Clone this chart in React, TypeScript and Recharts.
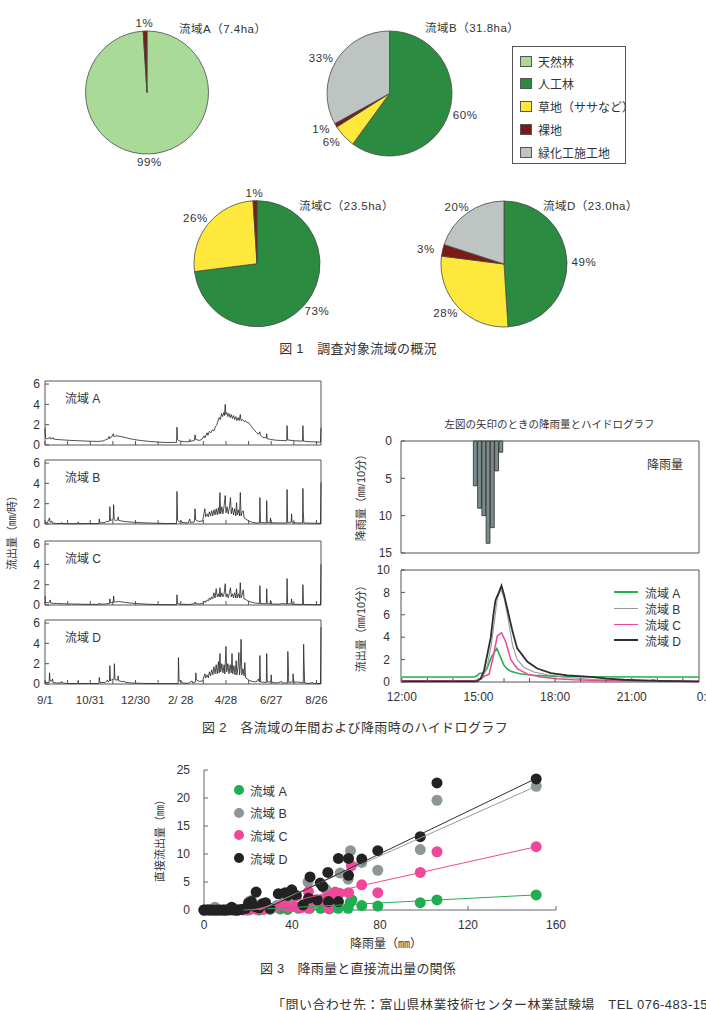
import React from "react";
import {
  PieChart, Pie, Cell, LineChart, Line, BarChart, Bar, ScatterChart, Scatter,
  XAxis, YAxis, ReferenceArea,
} from "recharts";

type Pt = [number, number];

const FONT = "'Liberation Sans', 'Noto Sans CJK JP', sans-serif";
const INK = "#333";
const FRAME = "#555";

// ---------- Fig.1 : land use of each catchment ----------
const landUse = ["天然林", "人工林", "草地（ササなど）", "裸地", "緑化工施工地"];
const landColors = ["#a9da98", "#2b8c41", "#ffe83c", "#7b1b16", "#bec4c1"];

// share (%) per category, same order as landUse
const shareA = [99, 0, 0, 1, 0];
const shareB = [0, 60, 6, 1, 33];
const shareC = [0, 73, 26, 1, 0];
const shareD = [0, 49, 28, 3, 20];

const basinTitles = ["流域A（7.4ha）", "流域B（31.8ha）", "流域C（23.5ha）", "流域D（23.0ha）"];

// ---------- Fig.2 left : runoff through the year (days since 9/1) ----------
const dayTicks = [0, 30, 60, 90, 120, 150, 180, 210, 240, 270, 300, 330, 360];
const dateTicks = [0, 60, 120, 180, 240, 300, 360];
const dateLabels = ["9/1", "10/31", "12/30", "2/ 28", "4/28", "6/27", "8/26"];

const flowA: Pt[] = [
  [0, 1.7], [0.6, 0.7], [3, 0.6], [7, 0.75], [7.6, 0.6], [11, 0.7], [11.6, 0.58], [20, 0.52], [30, 0.47],
  [40, 0.43], [50, 0.4], [60, 0.37], [70, 0.35], [77, 0.4], [80, 0.5], [84, 0.62], [85, 0.85], [85.6, 0.65],
  [88, 0.75], [90.5, 1.1], [91.2, 0.85], [95, 0.9], [100, 0.85], [108, 0.7], [117, 0.55], [128, 0.43],
  [139, 0.35], [150, 0.28], [160, 0.25], [170, 0.25], [174.5, 0.27], [175, 1.75], [175.7, 0.55], [178, 0.4],
  [185, 0.32], [191.5, 0.33], [192, 0.55], [192.6, 0.35], [198, 0.45], [199, 1.0], [199.8, 0.55], [205, 0.45],
  [208, 0.55], [211, 0.9], [212, 0.7], [215, 1.2], [216, 0.95], [218, 1.35], [220, 1.2], [222, 1.5], [224, 1.4],
  [226, 1.8], [228, 2.0], [229.5, 2.4], [231, 2.7], [232.5, 2.5], [234, 3.1], [235.5, 2.8], [237, 3.2],
  [238, 2.9], [239, 4.0], [239.8, 3.0], [241, 3.2], [242.5, 2.8], [244, 3.1], [245.5, 2.7], [247, 3.0],
  [248.5, 2.6], [250, 2.9], [251.5, 2.5], [253, 2.8], [254.5, 2.4], [256, 2.7], [257.5, 2.4], [259, 3.0],
  [260, 2.4], [262, 2.5], [264, 2.3], [266, 2.4], [268, 2.2], [270, 2.2], [273, 1.9], [276, 1.6], [280, 1.25],
  [283, 1.05], [285, 1.3], [285.7, 0.95], [289, 0.75], [293.5, 0.7], [294, 1.1], [294.7, 0.62], [299, 0.55],
  [305, 0.48], [312, 0.45], [320.5, 0.42], [321, 1.9], [321.8, 0.5], [330, 0.42], [341.5, 0.38], [342, 1.9],
  [342.7, 0.38], [350, 0.33], [358, 0.3], [365.3, 0.28], [366, 1.7],
];

const flowB: Pt[] = [
  [0, 0.15], [3, 0.1], [6, 0.6], [6.8, 0.15], [9, 0.3], [9.7, 0.1], [15, 0.05], [21.5, 0.05], [22, 0.15],
  [22.7, 0.05], [30, 0.03], [43.5, 0.03], [44, 0.2], [44.7, 0.03], [58, 0.05], [58.5, 0.1], [59, 0.03],
  [71.5, 0.05], [72, 0.5], [72.8, 0.1], [80, 0.15], [82, 0.3], [83, 0.2], [85.5, 0.3], [86, 1.7], [86.8, 0.3],
  [88, 0.4], [90.5, 0.5], [91, 1.9], [91.8, 0.4], [94, 0.35], [96.5, 0.4], [97, 0.7], [97.7, 0.35], [105, 0.25],
  [117, 0.17], [130, 0.12], [145, 0.08], [160, 0.05], [174.5, 0.05], [175, 3.2], [175.8, 0.35], [178, 0.2],
  [181, 0.3], [181.6, 0.15], [190, 0.1], [192, 0.5], [192.7, 0.15], [198, 0.2], [199, 1.5], [199.8, 0.4],
  [204, 0.25], [209, 0.3], [212, 1.5], [213, 0.7], [215, 1.0], [216.5, 0.7], [218, 1.2], [219.5, 0.8],
  [221, 1.3], [222.5, 0.8], [224, 1.4], [225.5, 0.9], [227, 1.5], [228.5, 0.9], [230, 1.6], [231, 1.0],
  [232, 3.1], [233, 1.0], [234.5, 1.7], [236, 1.0], [237.5, 1.8], [239, 2.8], [240, 1.1], [241.5, 1.7],
  [243, 1.0], [244.5, 1.6], [246, 2.6], [247, 1.0], [248.5, 1.6], [250, 0.9], [251.5, 1.5], [253, 0.8],
  [254, 2.1], [255, 0.9], [256.5, 1.4], [258, 0.8], [259, 3.1], [260, 0.8], [261.5, 1.2], [263, 1.3],
  [264, 0.6], [266, 0.5], [270, 0.3], [275, 0.15], [280, 0.1], [284.5, 0.1], [285, 2.6], [285.7, 0.15],
  [293.5, 0.1], [294, 2.3], [294.7, 0.15], [298.5, 0.15], [299, 0.6], [299.7, 0.12], [310, 0.1], [320.5, 0.1],
  [321, 3.4], [321.7, 0.15], [326.5, 0.2], [327, 1.0], [327.7, 0.15], [335, 0.1], [341.5, 0.1], [342, 3.5],
  [342.5, 1.3], [343.2, 0.1], [355, 0.08], [365.3, 0.06], [366, 4.1],
];

const flowC: Pt[] = [
  [0, 0.9], [0.7, 0.25], [5, 0.2], [7, 0.5], [7.7, 0.18], [15, 0.15], [25, 0.12], [35, 0.1], [43.5, 0.08],
  [44, 0.15], [44.7, 0.08], [60, 0.06], [71.5, 0.06], [72, 0.2], [72.8, 0.08], [80, 0.1], [85.5, 0.15],
  [86, 0.6], [86.8, 0.2], [90.5, 0.25], [91, 0.9], [91.8, 0.3], [95, 0.3], [98, 0.35], [102, 0.3], [110, 0.22],
  [120, 0.15], [135, 0.08], [150, 0.04], [165, 0.03], [174.5, 0.03], [175, 1.0], [175.7, 0.15], [180, 0.08],
  [190, 0.05], [198, 0.1], [199, 0.3], [199.8, 0.15], [205, 0.1], [210, 0.2], [212, 0.4], [213, 0.25],
  [215, 0.5], [216.5, 0.4], [218, 0.7], [219.5, 0.5], [221, 0.8], [222.5, 0.6], [224, 1.2], [225.5, 0.7],
  [227, 1.6], [228.5, 0.8], [230, 1.1], [231, 0.8], [232, 1.7], [233, 0.8], [234.5, 1.2], [236, 0.8],
  [237.5, 1.1], [239, 2.1], [240, 0.8], [241.5, 1.1], [243, 0.7], [244.5, 1.2], [246, 1.7], [247, 0.8],
  [248.5, 1.1], [250, 0.7], [251.5, 1.2], [253, 0.7], [254, 1.6], [255, 0.7], [256.5, 1.1], [258, 0.7],
  [259, 2.2], [260, 0.7], [261.5, 1.0], [263, 1.5], [264, 0.6], [266, 0.55], [269, 0.4], [273, 0.3], [278, 0.2],
  [284.5, 0.15], [285, 1.9], [285.7, 0.15], [293.5, 0.12], [294, 1.6], [294.7, 0.12], [298.5, 0.12],
  [299, 0.45], [299.7, 0.1], [310, 0.08], [316, 0.15], [320.5, 0.08], [321, 2.6], [321.7, 0.1], [326.5, 0.12],
  [327, 0.6], [327.7, 0.08], [335, 0.06], [341.5, 0.05], [342, 2.0], [342.8, 0.05], [355, 0.04], [365.3, 0.03],
  [366, 4.0],
];

const flowD: Pt[] = [
  [0, 0.3], [1, 0.15], [5.5, 0.15], [6, 1.1], [6.8, 0.3], [9.5, 0.3], [10, 0.5], [10.7, 0.15], [15, 0.1],
  [21.5, 0.1], [22, 0.25], [23, 0.1], [30, 0.05], [43.5, 0.05], [44, 0.35], [44.7, 0.05], [58, 0.05],
  [71.5, 0.05], [72, 0.65], [72.8, 0.15], [80, 0.15], [83, 0.4], [83.7, 0.2], [85.5, 0.3], [86, 1.8],
  [86.8, 0.3], [88, 0.4], [91.5, 0.5], [92, 2.0], [92.8, 0.4], [96.5, 0.4], [97, 0.8], [97.7, 0.3], [102, 0.25],
  [106, 0.25], [106.5, 0.15], [115, 0.1], [130, 0.06], [150, 0.04], [176.5, 0.04], [177, 2.6], [177.8, 0.3],
  [181, 0.3], [181.6, 0.1], [190, 0.06], [195, 0.3], [195.7, 0.1], [199.5, 0.2], [200, 1.1], [200.8, 0.4],
  [205, 0.25], [209, 0.3], [212, 1.0], [213, 0.6], [215, 0.9], [216.5, 0.6], [218, 1.2], [219.5, 0.8],
  [221, 1.4], [222.5, 0.9], [224, 1.7], [225.5, 1.0], [227, 1.9], [228.5, 1.0], [230, 2.2], [231, 1.1],
  [232, 3.0], [233, 1.2], [234.5, 2.0], [236, 1.1], [237.5, 1.9], [238.5, 1.0], [240, 3.7], [241, 1.2],
  [242.5, 2.0], [244, 1.0], [245.5, 1.9], [247, 1.1], [248, 3.0], [249, 1.0], [250.5, 1.8], [252, 0.9],
  [253.5, 2.3], [254.5, 0.9], [256, 1.7], [257, 3.1], [258, 0.9], [259, 1.7], [260, 4.4], [261, 0.9],
  [262.5, 1.5], [264, 0.8], [265, 2.1], [266, 0.6], [268, 0.5], [271, 0.35], [275, 0.25], [280, 0.2],
  [283, 0.5], [284, 0.2], [284.5, 0.2], [285, 2.8], [285.7, 0.2], [293.5, 0.15], [294, 3.0], [294.7, 0.2],
  [299.5, 0.2], [300, 0.9], [300.7, 0.15], [308, 0.1], [314, 0.25], [314.6, 0.1], [321.5, 0.1], [322, 3.2],
  [322.5, 2.3], [323.2, 0.15], [328.5, 0.2], [329, 1.0], [329.7, 0.15], [335, 0.2], [342.5, 0.1], [343, 3.9],
  [343.5, 2.2], [344.3, 0.1], [350, 0.05], [355, 0.15], [355.7, 0.05], [365.3, 0.05], [366, 5.6],
];

// ---------- Fig.2 right : one storm (minutes since 0:00) ----------
const hourTicks = [720, 780, 840, 900, 960, 1020, 1080, 1140, 1200, 1260, 1320, 1380, 1440];
const clockTicks = [720, 900, 1080, 1260, 1440];
const clockLabels = ["12:00", "15:00", "18:00", "21:00", "0:00"];

const rainTimes = [895, 905, 915, 925, 935, 945, 955];
const rainMm = [6.0, 9.0, 10.0, 13.7, 11.6, 4.0, 1.5];

const stormA: Pt[] = [
  [720, 0.45], [890, 0.45], [898, 0.6], [903, 0.78], [913, 0.8], [920, 1.2], [930, 2.2], [943, 3.0],
  [952, 2.2], [960, 1.5], [968, 1.15], [976, 0.95], [990, 0.8], [1000, 0.72], [1030, 0.6], [1085, 0.5],
  [1150, 0.47], [1300, 0.45], [1420, 0.45],
];
const stormB: Pt[] = [
  [720, 0.12], [880, 0.12], [900, 0.15], [910, 0.4], [921, 1.5], [930, 3.3], [936, 5.0], [944, 7.4],
  [952, 8.3], [960, 7.5], [968, 6.0], [980, 3.3], [991, 2.0], [1007, 1.3], [1030, 0.9], [1062, 0.65],
  [1109, 0.4], [1171, 0.22], [1280, 0.1], [1420, 0.05],
];
const stormC: Pt[] = [
  [720, 0.12], [890, 0.12], [905, 0.25], [913, 0.5], [925, 0.7], [936, 2.5], [944, 4.1], [954, 4.4],
  [964, 3.6], [976, 2.0], [991, 1.2], [1015, 0.7], [1046, 0.45], [1085, 0.3], [1124, 0.2], [1202, 0.12],
  [1300, 0.1], [1311, 0.2], [1320, 0.1], [1420, 0.05],
];
const stormD: Pt[] = [
  [720, 0.05], [895, 0.05], [905, 0.3], [913, 1.0], [921, 2.5], [929, 4.0], [935, 6.0], [940, 7.3],
  [948, 8.0], [954, 8.6], [960, 7.8], [968, 6.5], [980, 4.5], [991, 3.0], [1015, 1.8], [1038, 1.2],
  [1070, 0.8], [1109, 0.6], [1163, 0.45], [1202, 0.3], [1241, 0.2], [1319, 0.1], [1420, 0.05],
];

// ---------- Fig.3 : event rainfall (mm) vs direct runoff (mm) ----------
const eventsA: Pt[] = [
  [0, 0], [5, 0], [10, 0], [15, 0], [20, 0], [25, 0], [30, 0.1], [34.6, 0.2], [38, 0.1], [43, 0.3], [48, 0.3],
  [53, 0.3], [57, 0.2], [61, 0.3], [65.5, 0.3], [66.4, 1.3], [67.2, 1.8], [71.7, 0.8], [79, 0.7], [98.3, 1.3],
  [105.9, 1.8], [151, 2.7],
];
const eventsB: Pt[] = [
  [0, 0], [2, 0.1], [4, 0], [5, 0.5], [7, 0], [9, 0], [11, 0.1], [13, 0], [15, 0], [17, 0.1], [19, 0.2],
  [20.5, 1.5], [21.5, 1.7], [23, 0.9], [25, 0.5], [28, 0.6], [33, 0.8], [36, 1.2], [38, 0.7], [40, 1.0],
  [44, 0.6], [47.3, 5.0], [50, 1.2], [55.4, 3.7], [57, 1.8], [61.9, 6.6], [65.5, 5.5], [66.6, 10.6],
  [71.7, 8.5], [79, 7.1], [98.3, 10.8], [105.9, 19.6], [151, 22.1],
];
const eventsC: Pt[] = [
  [0, 0], [3, 0], [6, 0], [9, 0], [12, 0], [15, 0], [18, 0], [21, 0.1], [24, 0.1], [27, 0.1], [30, 0.2],
  [33, 0.5], [35.7, 1.0], [38, 0.5], [41.4, 0.6], [44, 0.4], [47.5, 3.3], [47.5, 0.3], [50.5, 1.8],
  [53.5, 1.8], [56.6, 2.4], [56.6, 0.3], [59.6, 3.2], [61.6, 3.0], [65.7, 3.1], [67, 7.9], [71.7, 4.5],
  [79, 3.1], [98.3, 6.7], [105.9, 10.4], [151, 11.3],
];
const eventsD: Pt[] = [
  [0, 0], [1.5, 0], [3, 0], [4.5, 0], [6, 0], [7.5, 0], [9, 0], [10.5, 0], [12, 0.1], [12.6, 0.5], [14, 0],
  [15.5, 0], [17, 0.1], [19, 0.3], [20.2, 1.2], [21.5, 1.5], [23.2, 0.6], [23.7, 3.2], [25, 0.4], [26.5, 1.1],
  [28, 1.3], [30, 0.3], [33.8, 2.9], [36.9, 3.1], [38, 2.6], [39.9, 3.6], [42, 2.6], [45, 0.9], [47.5, 2.1],
  [48.2, 5.9], [51.5, 1.8], [52.8, 4.8], [54, 4.2], [56.3, 6.7], [56.6, 1.5], [61.1, 1.5], [61.1, 9.2],
  [65.7, 9.2], [65.7, 6.2], [71.7, 9.1], [79, 10.6], [98.3, 13.1], [105.9, 22.7], [151, 23.4],
];

// fitted lines (two end points each)
const fitA: Pt[] = [[18, 0], [151, 2.7]];
const fitB: Pt[] = [[25, 0], [151, 22.1]];
const fitC: Pt[] = [[22, 0], [151, 11.3]];
const fitD: Pt[] = [[27, 0], [151, 23.5]];

const basinLabels = ["流域 A", "流域 B", "流域 C", "流域 D"];
const lineColors = ["#25b04d", "#9a9a9a", "#ec4897", "#2e2e2e"];
const dotColors = ["#1fae50", "#8d9797", "#f0479b", "#222222"];

// ---------- helpers ----------
const toXY = (pts: Pt[]) => pts.map(([x, y]) => ({ x, y }));

function Txt({ x, y, size = 12, align = "left", rot = false, spacing = 0, children }: any) {
  const tx = align === "center" ? "-50%" : align === "right" ? "-100%" : "0";
  return (
    <div
      style={{
        position: "absolute", left: x, top: y, fontSize: size, lineHeight: 1, whiteSpace: "nowrap",
        color: INK, letterSpacing: spacing,
        transform: `translate(${tx}, -50%)${rot ? " rotate(-90deg)" : ""}`,
      }}
    >
      {children}
    </div>
  );
}

const RAD = Math.PI / 180;
const pctLabel = (p: any) => {
  const a = -p.midAngle * RAD;
  const x = p.cx + (p.outerRadius + 17) * Math.cos(a);
  const y = p.cy + (p.outerRadius + 8) * Math.sin(a);
  return (
    <text x={x} y={y} textAnchor="middle" dominantBaseline="central" fontSize={11.5} fill={INK} letterSpacing={0.6}>
      {`${p.value}%`}
    </text>
  );
};

const pieSlices = (share: number[]) =>
  share
    .map((v, i) => ({ name: landUse[i], value: v, color: landColors[i] }))
    .filter((d) => d.value > 0);

const pieLayout = [
  { share: shareA, cx: 147, cy: 92.5, r: 61.5, tx: 179, ty: 30 },
  { share: shareB, cx: 389.5, cy: 93.5, r: 62.5, tx: 425, ty: 29 },
  { share: shareC, cx: 257, cy: 263.7, r: 63, tx: 299, ty: 207 },
  { share: shareD, cx: 504, cy: 264, r: 63, tx: 543, ty: 207 },
];

const tickStyle = { fontSize: 12, fill: INK };

function YearPanel({ flow, plotTop, name, showDates }: { flow: Pt[]; plotTop: number; name: string; showDates: boolean }) {
  const axisH = showDates ? 28 : 2;
  const padBottom = showDates ? 0 : 7;
  const data = flow.map(([d, q]) => ({ d, q }));
  return (
    <>
      <div style={{ position: "absolute", left: 0, top: plotTop - 4 }}>
        <LineChart
          width={330} height={4 + 64 + axisH + padBottom} data={data}
          margin={{ top: 4, right: 9, left: 20, bottom: padBottom }}
        >
          <XAxis
            dataKey="d" type="number" domain={[0, 366]} ticks={dayTicks} interval={0} height={axisH}
            axisLine={false} tickSize={-4} tickMargin={16} tickLine={{ stroke: FRAME }}
            tick={{ fontSize: 11.5, fill: INK }}
            tickFormatter={(v: number) => {
              const i = dateTicks.indexOf(v);
              return showDates && i >= 0 ? dateLabels[i] : "";
            }}
          />
          <YAxis
            type="number" domain={[0, 6.3]} ticks={[0, 2, 4, 6]} interval={0} width={25}
            axisLine={false} tickSize={-4} tickMargin={9} tickLine={{ stroke: FRAME }} tick={tickStyle}
          />
          <ReferenceArea x1={0} x2={366} y1={0} y2={6.3} fill="none" stroke={FRAME} strokeWidth={1} />
          <Line dataKey="q" type="linear" dot={false} stroke="#222" strokeWidth={0.8} isAnimationActive={false} />
        </LineChart>
      </div>
      <Txt x={65} y={plotTop + 18} size={12}>{name}</Txt>
    </>
  );
}

export default function App() {
  const rainData = rainTimes.map((t, i) => ({ t, r: rainMm[i] }));
  const storms = [stormA, stormB, stormC, stormD];
  const events = [eventsA, eventsB, eventsC, eventsD];
  const fits = [fitA, fitB, fitC, fitD];
  const stormWidths = [1.6, 1.1, 1.5, 1.8];

  return (
    <div
      style={{
        position: "absolute", left: 0, top: 0, width: 706, height: 1010, overflow: "hidden",
        background: "#fff", fontFamily: FONT, color: INK,
      }}
    >
      {/* ---------- Fig.1 ---------- */}
      <div style={{ position: "absolute", left: 0, top: 0 }}>
        <PieChart width={706} height={340} margin={{ top: 0, right: 0, bottom: 0, left: 0 }}>
          {pieLayout.map((p, k) => (
            <Pie
              key={k} data={pieSlices(p.share)} dataKey="value" nameKey="name" cx={p.cx} cy={p.cy}
              outerRadius={p.r} startAngle={90} endAngle={-270} stroke="#4a4a4a" strokeWidth={0.8}
              label={pctLabel} labelLine={false} isAnimationActive={false}
            >
              {pieSlices(p.share).map((s, i) => (
                <Cell key={i} fill={s.color} />
              ))}
            </Pie>
          ))}
        </PieChart>
      </div>
      {pieLayout.map((p, k) => (
        <Txt key={k} x={p.tx} y={p.ty} size={11.5} spacing={0.5}>{basinTitles[k]}</Txt>
      ))}
      <div
        style={{
          position: "absolute", left: 512, top: 46, width: 114, height: 118, border: `1px solid ${FRAME}`,
          boxSizing: "border-box",
        }}
      >
        {landUse.map((n, i) => (
          <div
            key={n}
            style={{
              position: "absolute", left: 7, top: 8 + i * 22.75, height: 12, display: "flex", alignItems: "center",
              fontSize: 12, whiteSpace: "nowrap",
            }}
          >
            <span
              style={{
                display: "inline-block", width: 10, height: 9, background: landColors[i],
                border: "1px solid #555", marginRight: 6,
              }}
            />
            {n}
          </div>
        ))}
      </div>
      <Txt x={358} y={348} size={13} align="center" spacing={0.3}>図 1　調査対象流域の概況</Txt>

      {/* ---------- Fig.2 left ---------- */}
      <YearPanel flow={flowA} plotTop={381} name={basinLabels[0]} showDates={false} />
      <YearPanel flow={flowB} plotTop={460} name={basinLabels[1]} showDates={false} />
      <YearPanel flow={flowC} plotTop={541} name={basinLabels[2]} showDates={false} />
      <YearPanel flow={flowD} plotTop={620} name={basinLabels[3]} showDates={true} />
      <Txt x={12} y={530} size={11} align="center" rot>流出量（㎜/時）</Txt>

      {/* ---------- Fig.2 right ---------- */}
      <Txt x={549.5} y={424} size={10.5} align="center">左図の矢印のときの降雨量とハイドログラフ</Txt>
      <div style={{ position: "absolute", left: 340, top: 435 }}>
        <BarChart width={366} height={128} data={rainData} margin={{ top: 6, right: 7, left: 0, bottom: 10 }}>
          <XAxis
            dataKey="t" type="number" orientation="top" domain={[720, 1420]} ticks={hourTicks.filter((t) => t <= 1420)}
            interval={0} height={0} axisLine={false} tickSize={-4} tickLine={{ stroke: FRAME }} tickFormatter={() => ""}
          />
          <YAxis
            type="number" reversed domain={[0, 15]} ticks={[0, 5, 10, 15]} interval={0} width={61}
            axisLine={false} tickSize={-4} tickMargin={13} tickLine={{ stroke: FRAME }} tick={tickStyle}
          />
          <ReferenceArea x1={720} x2={1420} y1={0} y2={15} fill="none" stroke={FRAME} strokeWidth={1} />
          <Bar dataKey="r" fill="#7b8c8c" stroke="#2b2b2b" strokeWidth={0.8} barSize={4.3} isAnimationActive={false} />
        </BarChart>
      </div>
      <Txt x={647} y={465} size={12}>降雨量</Txt>
      <Txt x={361} y={495} size={11} align="center" rot>降雨量（㎜/10分）</Txt>

      <div style={{ position: "absolute", left: 340, top: 564 }}>
        <LineChart width={366} height={148} margin={{ top: 6, right: 7, left: 0, bottom: 0 }}>
          <XAxis
            dataKey="t" type="number" domain={[718, 1418]} ticks={hourTicks} interval={0} height={30}
            axisLine={false} tickSize={-4} tickMargin={14} tickLine={{ stroke: FRAME }} tick={tickStyle}
            allowDataOverflow
            tickFormatter={(v: number) => {
              const i = clockTicks.indexOf(v);
              return i >= 0 ? clockLabels[i] : "";
            }}
          />
          <YAxis
            type="number" domain={[0, 10]} ticks={[0, 2, 4, 6, 8, 10]} interval={0} width={61}
            axisLine={false} tickSize={-4} tickMargin={15} tickLine={{ stroke: FRAME }} tick={tickStyle}
          />
          <ReferenceArea x1={718} x2={1418} y1={0} y2={10} fill="none" stroke={FRAME} strokeWidth={1} />
          {storms.map((s, i) => (
            <Line
              key={i} data={s.map(([t, q]) => ({ t, q }))} dataKey="q" type="linear" dot={false}
              stroke={lineColors[i]} strokeWidth={stormWidths[i]} isAnimationActive={false}
            />
          ))}
        </LineChart>
      </div>
      <Txt x={361} y={626} size={11} align="center" rot>流出量（㎜/10分）</Txt>
      {basinLabels.map((n, i) => (
        <div key={n} style={{ position: "absolute", left: 614, top: 592 + i * 16 - 6, height: 12, display: "flex", alignItems: "center" }}>
          <span style={{ display: "inline-block", width: 24, height: 0, borderTop: `${stormWidths[i] + 0.4}px solid ${lineColors[i]}`, marginRight: 7 }} />
          <span style={{ fontSize: 12, whiteSpace: "nowrap" }}>{n}</span>
        </div>
      ))}
      <Txt x={355} y={727} size={13} align="center" spacing={0.4}>図 2　各流域の年間および降雨時のハイドログラフ</Txt>

      {/* ---------- Fig.3 ---------- */}
      <div style={{ position: "absolute", left: 150, top: 760 }}>
        <ScatterChart width={426} height={200} margin={{ top: 10, right: 20, left: 0, bottom: 0 }}>
          <XAxis
            dataKey="x" type="number" domain={[0, 160]} ticks={[0, 40, 80, 120, 160]} interval={0} height={50}
            stroke="#666" tickSize={-4} tickMargin={14} tick={tickStyle}
          />
          <YAxis
            dataKey="y" type="number" domain={[0, 25]} ticks={[0, 5, 10, 15, 20, 25]} interval={0} width={54}
            stroke="#666" tickSize={-4} tickMargin={18} tick={tickStyle}
          />
          {events.map((pts, i) => (
            <Scatter
              key={`p${i}`} data={toXY(pts)} isAnimationActive={false}
              shape={(p: any) => <circle cx={p.cx} cy={p.cy} r={5.5} fill={dotColors[i]} />}
            />
          ))}
          {fits.map((pts, i) => (
            <Scatter
              key={`f${i}`} data={toXY(pts)} isAnimationActive={false}
              line={{ stroke: lineColors[i], strokeWidth: 1 }} shape={() => <g />}
            />
          ))}
        </ScatterChart>
      </div>
      <Txt x={160} y={838} size={11} align="center" rot>直接流出量（㎜）</Txt>
      <Txt x={386} y={944} size={12} align="center">降雨量（㎜）</Txt>
      {basinLabels.map((n, i) => (
        <div key={n} style={{ position: "absolute", left: 234, top: 790 + i * 22.7 - 6, height: 12, display: "flex", alignItems: "center" }}>
          <span style={{ display: "inline-block", width: 10, height: 10, borderRadius: 5, background: dotColors[i], marginRight: 6 }} />
          <span style={{ fontSize: 12.5, whiteSpace: "nowrap" }}>{n}</span>
        </div>
      ))}
      <Txt x={358} y={968} size={13} align="center" spacing={0.2}>図 3　降雨量と直接流出量の関係</Txt>

      <div
        style={{
          position: "absolute", left: 272, top: 997, fontSize: 13, lineHeight: "16px", whiteSpace: "nowrap",
          color: INK, letterSpacing: 0.45,
        }}
      >
        「問い合わせ先：富山県林業技術センター林業試験場　TEL 076-483-1511」
      </div>
    </div>
  );
}
